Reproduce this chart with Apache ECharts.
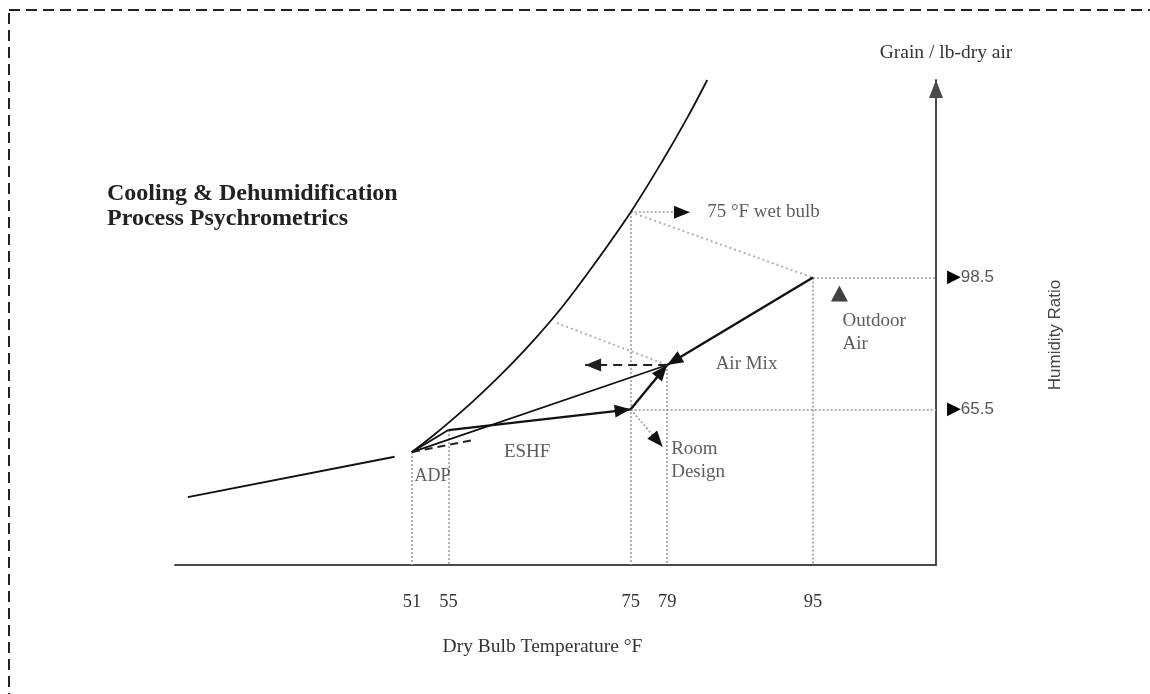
<!DOCTYPE html>
<html>
<head>
<meta charset="utf-8">
<script src="https://cdn.jsdelivr.net/npm/echarts@6/dist/echarts.min.js"></script>
<style>
  html, body { margin: 0; padding: 0; background: #ffffff; }
  #chart { width: 1150px; height: 694px; }
</style>
</head>
<body>
<div id="chart"></div>
<script>
// ---- data (dry bulb in °F, humidity ratio in grains / lb dry air) ----
const dryBulbTicks = [51, 55, 75, 79, 95];
const humidityTicks = [65.5, 98.5];

// saturation curve
const satCurveT = [51, 53.2, 55, 57.6, 60.9, 64.2, 67.5, 70.7, 75, 78.4, 81.2, 83.4];
const satCurveW = [54.8, 58.7, 62.1, 67.3, 74.5, 82.4, 91.2, 100.9, 114.9, 127.4, 138.5, 148];
// low-temperature part of the saturation line
const satTailT = [26.4, 49.1];
const satTailW = [43.5, 53.6];

// process state points [dry bulb, humidity ratio]
const ADP = [51, 54.8];
const supplyAir = [55, 60.3];
const roomDesign = [75, 65.5];
const airMix = [79, 76.6];
const outdoorAir = [95, 98.5];
const wetBulb75 = [75, 114.9];

// annotation arrow ends and helper points
const wetBulbArrowEnd = [81.5, 114.9];
const roomArrowEnd = [78.5, 56.1];
const mixArrowEnd = [70, 76.6];
const eshfDashEnd = [57.5, 57.7];
const mixWetBulbStart = [66.9, 87.1];
const outdoorMarker = [97.9, 94.5];

// ---- chart ----
const X_MIN = 25, X_MAX = 108.5, Y_MIN = 26.5, Y_MAX = 148;
const SERIF = '"Liberation Serif", "DejaVu Serif", serif';
const SANS = '"Liberation Sans", Arial, sans-serif';
// filled triangle whose tip sits on the end point of a segment
const ARROW = 'path://M16,16 L22.5,32 L9.5,32 Z M0,0 M32,0';

const pair = (t, w) => t.map((v, i) => [v, w[i]]);
const seg = (a, b) => ({ coords: [a, b] });

function segments(data, lineStyle, arrow, z) {
  return {
    type: 'lines',
    coordinateSystem: 'cartesian2d',
    silent: true,
    z: z || 2,
    symbol: arrow ? ['none', ARROW] : 'none',
    symbolSize: 32,
    lineStyle: Object.assign({ opacity: 1, curveness: 0 }, lineStyle),
    data: data
  };
}

// vertical guides drop from the highest state at each labelled dry bulb
const guideTops = [ADP, supplyAir, wetBulb75, airMix, outdoorAir];
const guides = guideTops.map(p => seg(p, [p[0], Y_MIN]));
const levelGuides = [outdoorAir, roomDesign].map(p => seg(p, [X_MAX, p[1]]));

const dotted = { color: '#9a9a9a', width: 1.6, type: [2, 2] };
const solid = { color: '#111111', width: 2.4, type: 'solid' };

const chart = echarts.init(document.getElementById('chart'), null, { renderer: 'canvas' });

chart.setOption({
  backgroundColor: '#ffffff',
  animation: false,
  textStyle: { fontFamily: SERIF },
  title: {
    text: 'Cooling & Dehumidification\nProcess Psychrometrics',
    left: 102,
    top: 176,
    textStyle: { fontFamily: SERIF, fontWeight: 'bold', fontSize: 24, lineHeight: 25, color: '#222222' }
  },
  grid: { left: 175, right: 214, top: 80, bottom: 129, containLabel: false, outerBoundsMode: 'none' },
  xAxis: {
    type: 'value',
    min: X_MIN,
    max: X_MAX,
    name: 'Dry Bulb Temperature °F',
    nameLocation: 'middle',
    nameGap: 72,
    nameTextStyle: { fontFamily: SERIF, fontSize: 19.5, color: '#333333', padding: [0, 26, 0, 0] },
    axisLine: { onZero: false, lineStyle: { color: '#4a4a4a', width: 2 } },
    axisTick: { show: false },
    splitLine: { show: false },
    axisLabel: {
      customValues: dryBulbTicks,
      margin: 28,
      fontFamily: SERIF,
      fontSize: 18.5,
      color: '#333333'
    }
  },
  yAxis: {
    type: 'value',
    position: 'right',
    min: Y_MIN,
    max: Y_MAX,
    name: 'Grain / lb-dry air',
    nameLocation: 'end',
    nameGap: 17,
    nameTextStyle: { fontFamily: SERIF, fontSize: 19.5, color: '#333333', padding: [0, 0, 0, 20] },
    axisLine: {
      onZero: false,
      lineStyle: { color: '#4a4a4a', width: 2 },
      symbol: ['none', 'triangle'],
      symbolSize: [14, 18],
      symbolOffset: [0, -9]
    },
    axisTick: { show: false },
    splitLine: { show: false },
    axisLabel: {
      customValues: humidityTicks,
      margin: 11,
      formatter: v => '{tri|▶}{num|' + v + '}',
      rich: {
        tri: { fontFamily: '"DejaVu Sans", sans-serif', fontSize: 18, color: '#000000' },
        num: { fontFamily: SANS, fontSize: 17, color: '#555555' }
      }
    }
  },
  graphic: [
    {
      type: 'rect',
      silent: true,
      shape: { x: 9, y: 10, width: 1300, height: 900 },
      style: { fill: 'none', stroke: '#222222', lineWidth: 2, lineDash: [11, 6] }
    },
    {
      type: 'text',
      silent: true,
      x: 1055,
      y: 335,
      rotation: Math.PI / 2,
      style: {
        text: 'Humidity Ratio',
        fontFamily: SANS,
        fontSize: 17,
        fill: '#444444',
        align: 'center',
        verticalAlign: 'middle'
      }
    }
  ],
  series: [
    // dotted guides
    segments(guides, dotted, false, 1),
    segments(levelGuides, dotted, false, 1),
    segments([seg(wetBulb75, outdoorAir), seg(mixWetBulbStart, airMix)],
      { color: '#b0b0b0', width: 2, type: [2, 3] }, false, 1),
    segments([seg(wetBulb75, wetBulbArrowEnd), seg(roomDesign, roomArrowEnd)], dotted, false, 1),
    // black heads on the dotted pointers
    segments([seg(wetBulb75, wetBulbArrowEnd), seg(roomDesign, roomArrowEnd)],
      { color: '#111111', width: 0 }, true, 3),
    // saturation line
    {
      type: 'line',
      data: pair(satTailT, satTailW),
      symbol: 'none',
      silent: true,
      z: 3,
      lineStyle: { color: '#111111', width: 2 }
    },
    {
      type: 'line',
      data: pair(satCurveT, satCurveW),
      smooth: 0.35,
      clip: false,
      symbol: 'none',
      silent: true,
      z: 3,
      lineStyle: { color: '#111111', width: 1.8 }
    },
    // coil line and first part of the ESHF line
    segments([seg(ADP, airMix), seg(ADP, supplyAir)], { color: '#111111', width: 1.8 }, false, 3),
    segments([seg(ADP, eshfDashEnd)], { color: '#222222', width: 2, type: [8, 5] }, false, 3),
    // process arrows
    segments([seg(outdoorAir, airMix), seg(roomDesign, airMix), seg(supplyAir, roomDesign)], solid, true, 4),
    segments([seg(airMix, mixArrowEnd)], { color: '#222222', width: 2, type: [9, 6] }, true, 4),
    // marker beside the outdoor air note
    {
      type: 'scatter',
      data: [outdoorMarker],
      symbol: 'triangle',
      symbolSize: [17, 16],
      silent: true,
      z: 4,
      itemStyle: { color: '#111111' }
    },
    // state notes
    {
      type: 'scatter',
      symbolSize: 1,
      silent: true,
      z: 5,
      itemStyle: { color: 'rgba(0,0,0,0)' },
      label: {
        show: true,
        fontFamily: SERIF,
        fontSize: 19,
        lineHeight: 23,
        color: '#333333',
        align: 'left',
        verticalAlign: 'middle'
      },
      data: [
        { value: ADP, label: { formatter: 'ADP', position: [3, 25], fontSize: 18 } },
        { value: supplyAir, label: { formatter: 'ESHF', position: [56, 22] } },
        { value: airMix, label: { formatter: 'Air Mix', position: [49, 0] } },
        { value: outdoorAir, label: { formatter: 'Outdoor\nAir', position: [30, 32], verticalAlign: 'top' } },
        { value: roomDesign, label: { formatter: 'Room\nDesign', position: [41, 29], verticalAlign: 'top' } },
        { value: wetBulb75, label: { formatter: '75 °F wet bulb', position: [77, 0] } }
      ]
    }
  ]
});
</script>
</body>
</html>
